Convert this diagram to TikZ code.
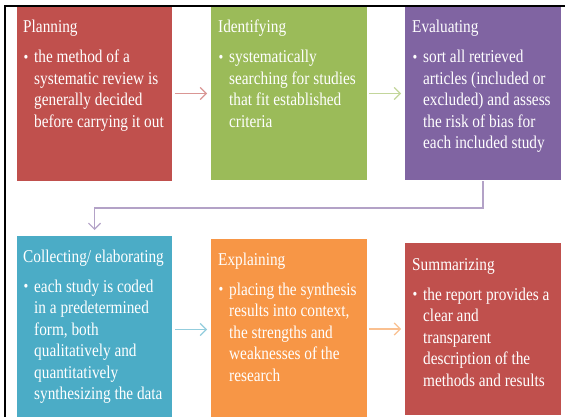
\documentclass[tikz,border=0pt]{standalone}
\usepackage{fontspec}
\setmainfont{Liberation Serif}[FakeStretch=0.85]
\usetikzlibrary{arrows.meta}

% process step palette
\definecolor{stepred}{HTML}{C0504D}
\definecolor{stepgreen}{HTML}{9BBB59}
\definecolor{steppurple}{HTML}{8064A2}
\definecolor{stepaqua}{HTML}{4BACC6}
\definecolor{steporange}{HTML}{F79646}
% lighter tints for the connectors
\definecolor{linkred}{HTML}{DA9694}
\definecolor{linkgreen}{HTML}{C3D69B}
\definecolor{linkpurple}{HTML}{B3A2C7}
\definecolor{linkaqua}{HTML}{93CDDD}
\definecolor{linkorange}{HTML}{FAC090}

% bullet cell of a step body
\newcommand{\stepbullet}{\makebox[11pt][l]{\hspace{0.5pt}\raisebox{0.5pt}{\fontsize{16}{16}\selectfont\textbullet}}}
% title followed by the bulleted body lines
\newcommand{\steptext}[2]{%
  \begin{tabular}[t]{@{}l@{}l@{}}
    \multicolumn{2}{@{}l@{}}{#1}\\[8.5pt]
    #2
  \end{tabular}}

\begin{document}
\begin{tikzpicture}[x=1pt, y=-1pt,
    stepbox/.style={draw=none, fill=#1, inner sep=0pt, outer sep=0pt},
    steplabel/.style={anchor=base west, inner sep=0pt, text=white,
      font=\fontsize{18}{21.5}\selectfont},
    link/.style={draw=#1, line width=1.2pt,
      -{Straight Barb[length=6pt, width=12pt, line width=1.2pt]}}
  ]
  \useasboundingbox (0,0) rectangle (565,417);
  \clip (0,0) rectangle (565,417);
  \fill[white] (0,0) rectangle (565,417);

  % frame along the top and left edges
  \draw[black, line width=2pt] (5,417) -- (5,5.8) -- (565,5.8);

  % step boxes
  \node[stepbox=stepred, minimum width=155pt, minimum height=174pt, anchor=north west] (plan) at (17,7) {};
  \node[stepbox=stepgreen, minimum width=156pt, minimum height=173pt, anchor=north west] (ident) at (211,7) {};
  \node[stepbox=steppurple, minimum width=156pt, minimum height=173pt, anchor=north west] (eval) at (405,7) {};
  \node[stepbox=stepaqua, minimum width=155pt, minimum height=184pt, anchor=north west] (coll) at (17,236) {};
  \node[stepbox=steporange, minimum width=156pt, minimum height=181pt, anchor=north west] (expl) at (211,239) {};
  \node[stepbox=stepred, minimum width=156pt, minimum height=172pt, anchor=north west] (summ) at (405,243) {};

  % step texts
  \node[steplabel] (plan-t) at ([shift={(6,26)}]plan.north west)
    {\steptext{Planning}{\stepbullet & the method of a\\ & systematic review is\\ & generally decided\\ & before carrying it out}};
  \node[steplabel] (ident-t) at ([shift={(7,26)}]ident.north west)
    {\steptext{Identifying}{\stepbullet & systematically\\ & searching for studies\\ & that fit established\\ & criteria}};
  \node[steplabel] (eval-t) at ([shift={(7,26)}]eval.north west)
    {\steptext{Evaluating}{\stepbullet & sort all retrieved\\ & articles (included or\\ & excluded) and assess\\ & the risk of bias for\\ & each included study}};
  \node[steplabel] (coll-t) at ([shift={(6,26)}]coll.north west)
    {\steptext{Collecting/ elaborating}{\stepbullet & each study is coded\\ & in a predetermined\\ & form, both\\ & qualitatively and\\ & quantitatively\\ & synthesizing the data}};
  \node[steplabel] (expl-t) at ([shift={(7,26)}]expl.north west)
    {\steptext{Explaining}{\stepbullet & placing the synthesis\\ & results into context,\\ & the strengths and\\ & weaknesses of the\\ & research}};
  \node[steplabel] (summ-t) at ([shift={(7,27)}]summ.north west)
    {\steptext{Summarizing}{\stepbullet & the report provides a\\ & clear and\\ & transparent\\ & description of the\\ & methods and results}};

  % connectors
  \draw[link=linkred, shorten <=3pt, shorten >=4pt] (plan.east |- ident.west) -- (ident.west);
  \draw[link=linkgreen, shorten <=2pt, shorten >=4pt] (ident.east) -- (eval.west);
  \draw[link=linkpurple, shorten <=1pt, shorten >=6pt] (eval.south) -- ++(0,28) -| (coll.north);
  \draw[link=linkaqua, shorten <=3pt, shorten >=4pt] (coll.east |- expl.west) -- (expl.west);
  \draw[link=linkorange, shorten <=2pt, shorten >=4pt] (expl.east |- summ.west) -- (summ.west);
\end{tikzpicture}
\end{document}
